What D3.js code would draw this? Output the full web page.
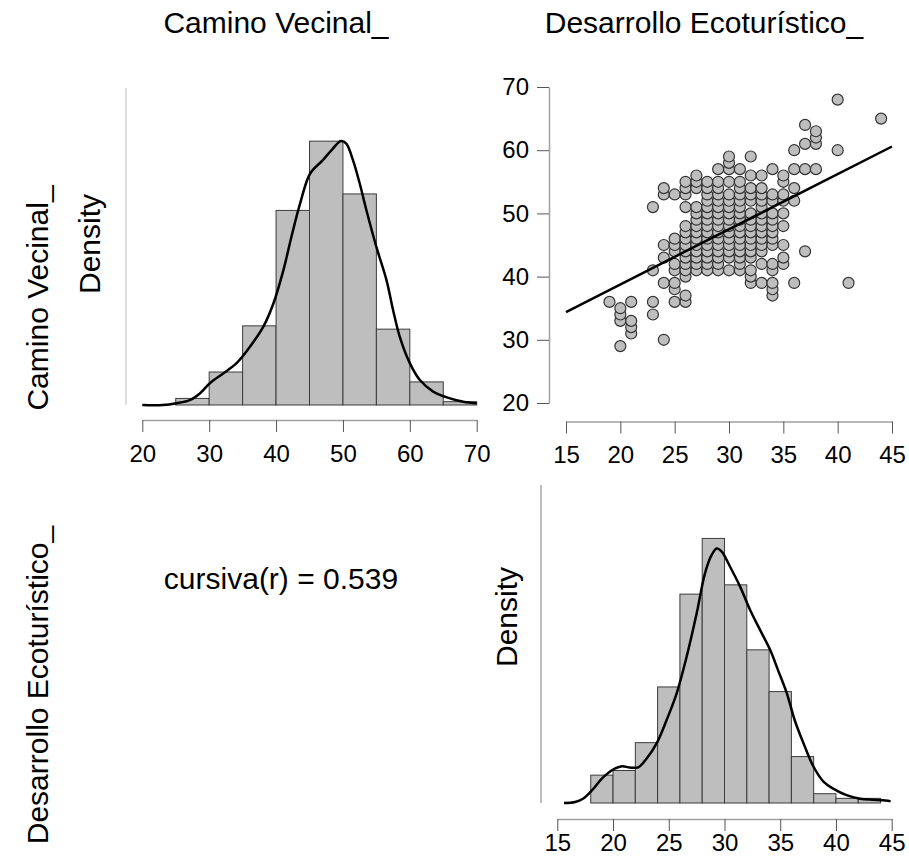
<!DOCTYPE html>
<html>
<head>
<meta charset="utf-8">
<script src="https://cdn.jsdelivr.net/npm/d3@7"></script>
<style>
  body { margin: 0; background: #fff; }
</style>
</head>
<body>
<div id="chart"></div>
<script>
// variable names
const varNames = ["Camino Vecinal_", "Desarrollo Ecoturístico_"];
const corrLabel = "cursiva(r) = 0.539";

// Camino Vecinal_ histogram (bin edges, counts) and density curve [x, density]
const caminoEdges = [25, 30, 35, 40, 45, 50, 55, 60, 65, 70];
const caminoCounts = [2, 10, 24, 59, 80, 64, 23, 7, 1];
const caminoCurve = [
  [20, 0], [23.05, 0], [25.1, 0.0004], [27.1, 0.0011], [28.6, 0.0026], [30.1, 0.0049],
  [32.1, 0.0071], [34.1, 0.0094], [36.1, 0.0131], [38.1, 0.0176], [39.6, 0.0228],
  [41.1, 0.0303], [42.3, 0.0378], [43.6, 0.0453], [45.1, 0.052], [47.0, 0.055],
  [48.5, 0.0576], [49.7, 0.0593], [50.5, 0.0587], [51.5, 0.055], [52.5, 0.0498],
  [53.5, 0.0438], [55.0, 0.0355], [56.5, 0.0281], [57.5, 0.0213], [58.5, 0.0153],
  [60.0, 0.0094], [61.5, 0.0056], [63.5, 0.003], [66.0, 0.0015], [68.0, 0.00075], [70.0, 0.0004]
];

// Desarrollo Ecoturístico_ histogram and density curve
const ecoEdges = [18, 20, 22, 24, 26, 28, 30, 32, 34, 36, 38, 40, 42, 44];
const ecoCounts = [6, 7, 13, 25, 45, 57, 47, 33, 24, 10, 2, 1, 1];
const ecoCurve = [
  [15.6, 0], [16.6, 0.0004], [17.3, 0.0017], [18.1, 0.005], [19.0, 0.0097], [19.9, 0.013],
  [20.8, 0.0146], [21.5, 0.0141], [22.3, 0.0143], [23.0, 0.0176], [23.9, 0.0236],
  [24.8, 0.0329], [25.7, 0.0435], [26.6, 0.0581], [27.5, 0.0753], [28.25, 0.0913],
  [28.85, 0.0986], [29.3, 0.1012], [29.75, 0.0999], [30.5, 0.0939], [31.4, 0.086],
  [32.3, 0.0767], [33.2, 0.0687], [34.1, 0.0608], [34.8, 0.0528], [35.6, 0.0435],
  [36.3, 0.0329], [37.1, 0.0236], [38.0, 0.0143], [38.9, 0.0084], [39.75, 0.0057],
  [40.95, 0.0031], [42.15, 0.0017], [43.3, 0.0013], [44.25, 0.0011], [44.9, 0.0007]
];

// scatter: Desarrollo Ecoturístico_ value -> list of Camino Vecinal_ values
const scatterCols = [
  [19, [36]],
  [20, [29, 33, 34, 35]],
  [21, [31, 32, 33, 36]],
  [23, [34, 36, 41, 51]],
  [24, [30, 39, 43, 45, 53, 54]],
  [25, [36, 38, 39, 41, 42, 44, 45, 46, 53]],
  [26, [36, 37, 40, 41, 42, 43, 44, 45, 46, 47, 48, 51, 53, 54, 55]],
  [27, [41, 42, 43, 44, 45, 46, 47, 48, 49, 50, 51, 54, 55, 56]],
  [28, [41, 42, 43, 44, 45, 46, 47, 48, 49, 50, 51, 52, 53, 54, 55]],
  [29, [41, 42, 43, 44, 45, 46, 47, 48, 49, 50, 51, 52, 53, 54, 55, 57]],
  [30, [41, 43, 44, 45, 46, 47, 48, 49, 50, 51, 52, 53, 55, 57, 58, 59]],
  [31, [41, 42, 43, 44, 45, 46, 47, 48, 49, 50, 51, 52, 53, 54, 55, 57]],
  [32, [39, 40, 41, 43, 44, 45, 46, 47, 48, 49, 50, 52, 53, 54, 56, 59]],
  [33, [39, 42, 44, 45, 46, 47, 48, 49, 50, 51, 52, 53, 54, 56]],
  [34, [37, 38, 39, 41, 42, 45, 46, 47, 48, 49, 50, 52, 53, 57]],
  [35, [42, 43, 45, 48, 50, 52, 53, 55, 56]],
  [36, [39, 52, 54, 57, 60]],
  [37, [44, 57, 61, 64]],
  [38, [57, 61, 62, 63]],
  [40, [60, 68]],
  [41, [39]],
  [44, [65]]
];
// fitted line (Camino = a + b * Desarrollo)
const fitIntercept = 21.3;
const fitSlope = 0.873;

const caminoTicks = [20, 30, 40, 50, 60, 70];
const ecoTicks = [15, 20, 25, 30, 35, 40, 45];
const scatterYTicks = [20, 30, 40, 50, 60, 70];

const W = 909, H = 866;
const FONT = "'Liberation Sans', Arial, sans-serif";
const tickSize = 24;
const labelSize = 30;

const svg = d3.select("#chart").append("svg")
  .attr("width", W)
  .attr("height", H)
  .style("font-family", FONT)
  .style("background", "#fff");

function styleAxis(g) {
  g.select(".domain").attr("stroke", "#a0a0a0").attr("stroke-width", 1.5);
  g.selectAll(".tick line").attr("stroke", "#555").attr("stroke-width", 1);
  g.selectAll(".tick text").attr("fill", "#000").style("font-size", tickSize + "px").style("font-family", FONT);
}

function histPanel(edges, counts, curve, x, y, axisY, ticks, lineX, lineColor, pad) {
  const n = d3.sum(counts);
  const bins = counts.map((c, i) => ({ x0: edges[i], x1: edges[i + 1], d: c / (n * (edges[i + 1] - edges[i])) }));

  // light vertical line on the left (density axis without ticks)
  svg.append("line")
    .attr("x1", lineX).attr("x2", lineX)
    .attr("y1", y.range()[1]).attr("y2", y.range()[0])
    .attr("stroke", lineColor).attr("stroke-width", 1.5);

  svg.append("g").selectAll("rect").data(bins).join("rect")
    .attr("x", d => x(d.x0))
    .attr("width", d => x(d.x1) - x(d.x0))
    .attr("y", d => y(d.d))
    .attr("height", d => y(0) - y(d.d))
    .attr("fill", "#bebebe")
    .attr("stroke", "#3c3c3c")
    .attr("stroke-width", 1);

  svg.append("path").datum(curve)
    .attr("d", d3.line().x(d => x(d[0])).y(d => y(d[1])).curve(d3.curveCatmullRom))
    .attr("fill", "none")
    .attr("stroke", "#000")
    .attr("stroke-width", 2.5);

  const ax = svg.append("g")
    .attr("transform", `translate(0,${axisY})`)
    .call(d3.axisBottom(x).tickValues(ticks).tickSize(12).tickSizeOuter(0).tickPadding(pad));
  styleAxis(ax);
}

// top-left: Camino Vecinal_ histogram
const x1 = d3.scaleLinear().domain([20, 70]).range([142.3, 476.7]);
const y1 = d3.scaleLinear().domain([0, 0.0712]).range([405, 88]);
histPanel(caminoEdges, caminoCounts, caminoCurve, x1, y1, 420, caminoTicks, 126, "#d4d4d4", 13);

// bottom-right: Desarrollo Ecoturístico_ histogram
const x4 = d3.scaleLinear().domain([15, 45]).range([557.3, 891.7]);
const y4 = d3.scaleLinear().domain([0, 0.1264]).range([803, 485]);
histPanel(ecoEdges, ecoCounts, ecoCurve, x4, y4, 819, ecoTicks, 541, "#a8a8a8", 3);

// top-right: scatter
const xs = d3.scaleLinear().domain([15, 45]).range([566, 892]);
const ys = d3.scaleLinear().domain([20, 70]).range([403, 87]);
const points = scatterCols.flatMap(([xv, list]) => list.map(yv => ({ x: xv, y: yv })));

const gx = svg.append("g")
  .attr("transform", "translate(0,421.5)")
  .call(d3.axisBottom(xs).tickValues(ecoTicks).tickSize(12).tickSizeOuter(0).tickPadding(12));
styleAxis(gx);
const gy = svg.append("g")
  .attr("transform", "translate(549,0)")
  .call(d3.axisLeft(ys).tickValues(scatterYTicks).tickSize(12).tickSizeOuter(0).tickPadding(8));
styleAxis(gy);

svg.append("g").selectAll("circle").data(points).join("circle")
  .attr("cx", d => xs(d.x))
  .attr("cy", d => ys(d.y))
  .attr("r", 5.5)
  .attr("fill", "#bebebe")
  .attr("stroke", "#333")
  .attr("stroke-width", 1.2);

svg.append("line")
  .attr("x1", xs(15)).attr("y1", ys(fitIntercept + fitSlope * 15))
  .attr("x2", xs(45)).attr("y2", ys(fitIntercept + fitSlope * 45))
  .attr("stroke", "#000").attr("stroke-width", 2.5);

// labels
svg.append("text").attr("x", 276).attr("y", 33).attr("text-anchor", "middle")
  .style("font-size", labelSize + "px").text(varNames[0]);
svg.append("text").attr("x", 704).attr("y", 33).attr("text-anchor", "middle")
  .style("font-size", labelSize + "px").text(varNames[1]);

function vText(x, y, txt) {
  svg.append("text").attr("transform", `translate(${x},${y}) rotate(-90)`)
    .attr("text-anchor", "middle").style("font-size", labelSize + "px").text(txt);
}
vText(48, 298, varNames[0]);
vText(48, 685, varNames[1]);
vText(100, 244, "Density");
vText(517, 617, "Density");

svg.append("text").attr("x", 281).attr("y", 589).attr("text-anchor", "middle")
  .style("font-size", labelSize + "px").text(corrLabel);
</script>
</body>
</html>
